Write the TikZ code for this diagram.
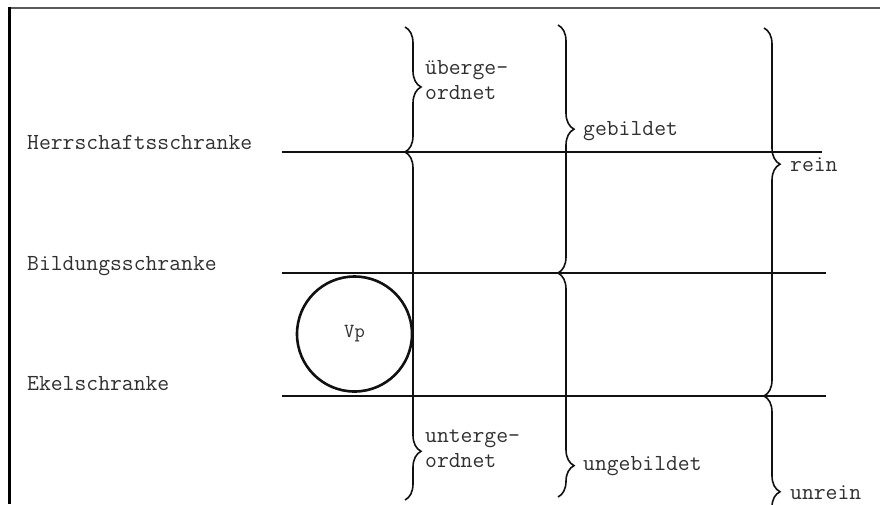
\documentclass[tikz,border=0pt]{standalone}
\usepackage{fontspec}
\usepackage{xcolor}
\usetikzlibrary{positioning,decorations.pathreplacing}
\definecolor{tyink}{HTML}{303030}
\definecolor{tyrule}{HTML}{111111}
\definecolor{tyframe}{HTML}{5A5A5A}

\begin{document}
\begin{tikzpicture}[x=1pt, y=-1pt,
  lbl/.style={inner sep=0pt, anchor=base west, text=tyink, font=\ttfamily\fontsize{23}{24.5}\selectfont},
  lbltwo/.style={lbl, align=left},
  bar/.style={draw=tyrule, line width=1.6pt},
  brc/.style={bar, decorate, decoration={brace, amplitude=16pt, aspect=#1}},
  ring/.style={circle, draw=tyrule, line width=2.6pt, minimum size=115pt, inner sep=0pt, text=tyink, font=\ttfamily\fontsize{20}{22}\selectfont}]
  \useasboundingbox (0,0) rectangle (880,504);
  \clip (0,0) rectangle (880,504);
  % frame
  \coordinate (ftl) at (9,8);
  \coordinate (ftr) at (880,8);
  \coordinate (fbl) at (9,504);
  \draw[tyframe, line width=2pt] (ftl) -- (ftr);
  \draw[black, line width=3pt] ([yshift=1pt]ftl) -- (fbl);
  % the three barriers
  \node[lbl] (herr) at (27,149) {Herrschaftsschranke};
  \node[lbl] (bild) at (27,270) {Bildungsschranke};
  \node[lbl] (ekel) at (27,390) {Ekelschranke};
  \coordinate (hw) at (282,152); \coordinate (he) at (822,152);
  \coordinate (bw) at (282,273); \coordinate (be) at (826,273);
  \coordinate (ew) at (282,396); \coordinate (ee) at (826,396);
  \draw[bar] (hw) -- (he);
  \draw[bar] (bw) -- (be);
  \draw[bar] (ew) -- (ee);
  % braces, top to bottom
  \coordinate (a0) at (405,27);  \coordinate (a1) at (405,152); \coordinate (a2) at (405,500);
  \coordinate (b0) at (558,25);  \coordinate (b1) at (558,273); \coordinate (b2) at (558,497);
  \coordinate (c0) at (764,28);  \coordinate (c1) at (764,396); \coordinate (c2) at (764,522);
  \draw[brc=0.48] (a0) -- (a1);
  \draw[brc=0.86] (a1) -- (a2);
  \draw[brc=0.42] (b0) -- (b1);
  \draw[brc=0.86] (b1) -- (b2);
  \draw[brc=0.37] (c0) -- (c1);
  \draw[brc=0.76] (c1) -- (c2);
  % what the braces hold (base is the last line)
  \node[lbltwo] (ueber) at (425,99) {überge-\\ordnet};
  \node[lbltwo] (unter) at (425,467) {unterge-\\ordnet};
  \node[lbl] (gebi) at (583,135) {gebildet};
  \node[lbl] (ungebi) at (583,470) {ungebildet};
  \node[lbl] (rein) at (790,171) {rein};
  \node[lbl] (unrein) at (790,499) {unrein};
  % the circle
  \node[ring] (vp) at (354.5,334) {Vp};
\end{tikzpicture}
\end{document}
